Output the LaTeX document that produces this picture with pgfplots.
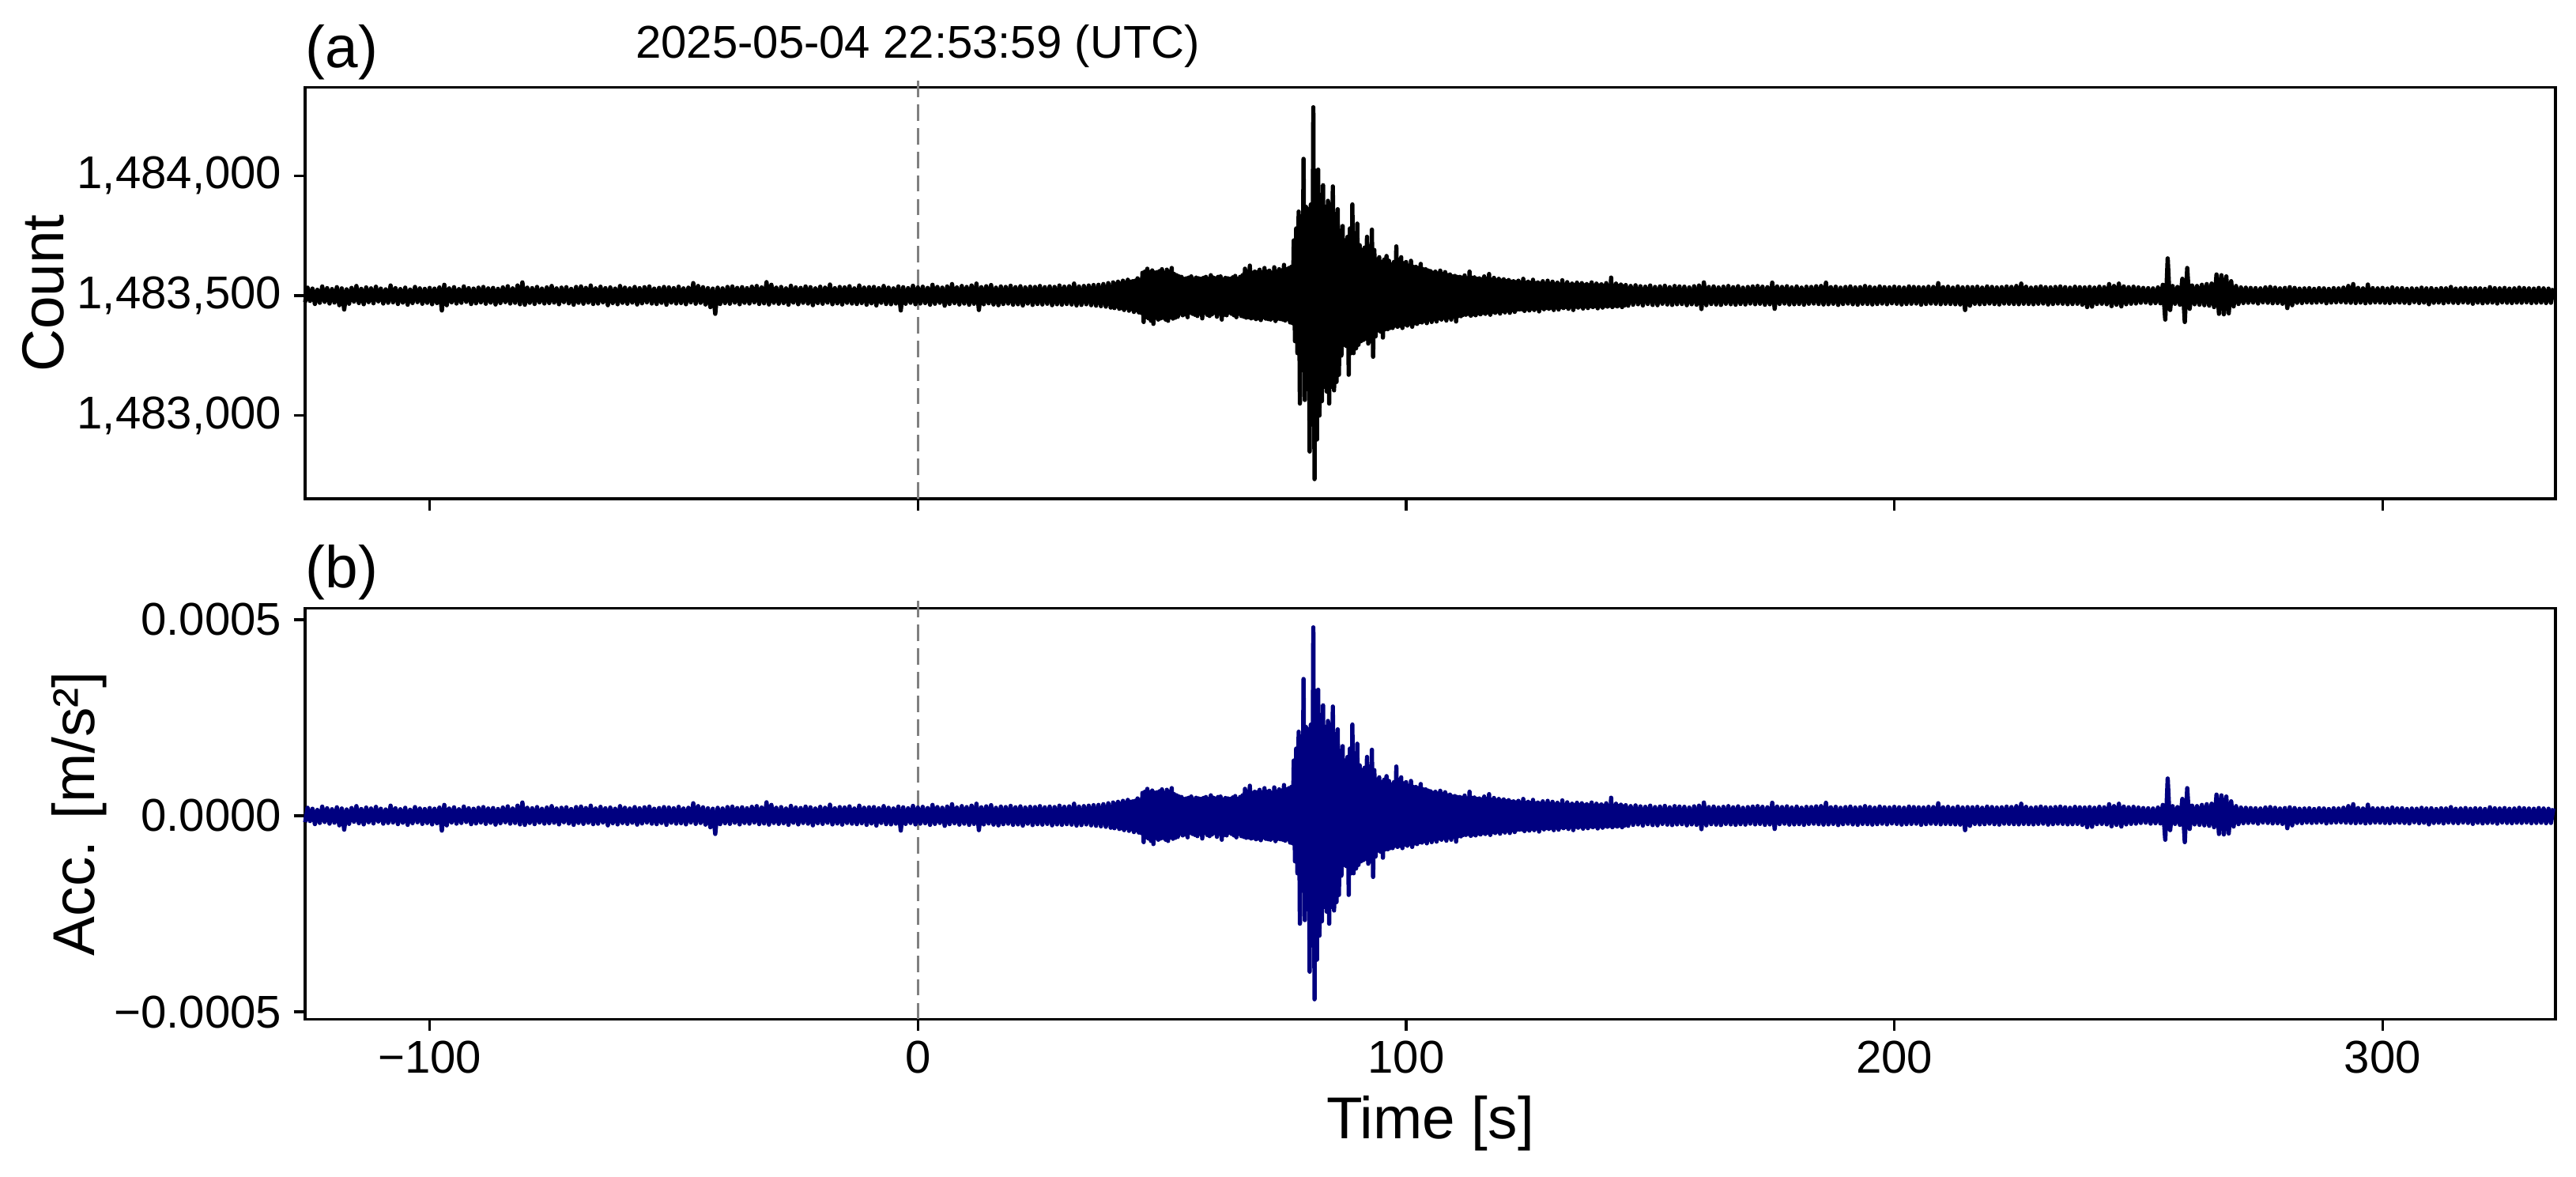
\documentclass[border=0pt]{standalone}
\usepackage{fontspec}
\setmainfont{Liberation Sans}
\usepackage{pgfplots}
\usepackage{pgfplotstable}
\pgfplotsset{compat=1.18}
\definecolor{navyblue}{RGB}{0,0,128}

% t [s], d = count - 1,483,500
\pgfplotstableread[row sep=\\]{
t d\\
-125.5 -27\\-125 33\\-124.5 -22\\-124 29\\-123.5 -35\\-123 24\\-122.5 -30\\-122 38\\-121.5 -26\\-121 31\\-120.5 -33\\-120 27\\
-119.5 -29\\-119 35\\-118.5 -40\\-118 30\\-117.5 -58\\-117 26\\-116.5 -34\\-116 32\\-115.5 -25\\-115 40\\-114.5 -31\\-114 28\\-113.5 -36\\-113 34\\-112.5 -27\\-112 30\\-111.5 -32\\-111 37\\-110.5 -24\\-110 29\\
-109.5 -33\\-109 26\\-108.5 -30\\-108 42\\-107.5 -28\\-107 31\\-106.5 -35\\-106 27\\-105.5 -29\\-105 33\\-104.5 -38\\-104 25\\-103.5 -31\\-103 36\\-102.5 -27\\-102 30\\-101.5 -34\\-101 28\\-100.5 -30\\-100 32\\
-99.5 -36\\-99 29\\-98.5 -31\\-98 34\\-97.5 -62\\-97 45\\-96.5 -40\\-96 30\\-95.5 -28\\-95 35\\-94.5 -33\\-94 27\\-93.5 -30\\-93 38\\-92.5 -26\\-92 31\\-91.5 -35\\-91 29\\-90.5 -32\\-90 33\\
-89.5 -28\\-89 36\\-88.5 -34\\-88 30\\-87.5 -29\\-87 32\\-86.5 -37\\-86 28\\-85.5 -31\\-85 34\\-84.5 -27\\-84 39\\-83.5 -33\\-83 30\\-82.5 -30\\-82 42\\-81.5 -36\\-81 55\\-80.5 -38\\-80 33\\
-79.5 -30\\-79 31\\-78.5 -35\\-78 36\\-77.5 -28\\-77 29\\-76.5 -33\\-76 34\\-75.5 -31\\-75 40\\-74.5 -29\\-74 30\\-73.5 -36\\-73 33\\-72.5 -27\\-72 35\\-71.5 -32\\-71 28\\-70.5 -38\\-70 36\\
-69.5 -30\\-69 38\\-68.5 -34\\-68 32\\-67.5 -29\\-67 42\\-66.5 -35\\-66 30\\-65.5 -33\\-65 37\\-64.5 -28\\-64 31\\-63.5 -40\\-63 34\\-62.5 -31\\-62 29\\-61.5 -36\\-61 40\\-60.5 -30\\-60 33\\
-59.5 -34\\-59 30\\-58.5 -29\\-58 36\\-57.5 -37\\-57 31\\-56.5 -32\\-56 35\\-55.5 -28\\-55 38\\-54.5 -33\\-54 29\\-53.5 -35\\-53 32\\-52.5 -30\\-52 36\\-51.5 -38\\-51 34\\-50.5 -29\\-50 31\\
-49.5 -33\\-49 37\\-48.5 -31\\-48 30\\-47.5 -36\\-47 33\\-46.5 -28\\-46 52\\-45.5 -34\\-45 40\\-44.5 -30\\-44 35\\-43.5 -37\\-43 31\\-42.5 -48\\-42 29\\-41.5 -76\\-41 33\\-40.5 -35\\-40 30\\
-39.5 -31\\-39 36\\-38.5 -34\\-38 38\\-37.5 -29\\-37 32\\-36.5 -36\\-36 35\\-35.5 -30\\-35 31\\-34.5 -33\\-34 37\\-33.5 -28\\-33 40\\-32.5 -35\\-32 34\\-31.5 -32\\-31 56\\-30.5 -37\\-30 45\\
-29.5 -30\\-29 33\\-28.5 -34\\-28 36\\-27.5 -31\\-27 30\\-26.5 -38\\-26 41\\-25.5 -29\\-25 34\\-24.5 -36\\-24 32\\-23.5 -30\\-23 38\\-22.5 -33\\-22 35\\-21.5 -40\\-21 30\\-20.5 -31\\-20 37\\
-19.5 -34\\-19 33\\-18.5 -29\\-18 46\\-17.5 -36\\-17 31\\-16.5 -32\\-16 36\\-15.5 -37\\-15 34\\-14.5 -30\\-14 39\\-13.5 -33\\-13 30\\-12.5 -35\\-12 42\\-11.5 -31\\-11 33\\-10.5 -38\\-10 35\\
-9.5 -32\\-9 36\\-8.5 -41\\-8 31\\-7.5 -30\\-7 40\\-6.5 -35\\-6 33\\-5.5 -36\\-5 30\\-4.5 -33\\-4 38\\-3.5 -62\\-3 35\\-2.5 -34\\-2 31\\-1.5 -30\\-1 41\\-0.5 -36\\0 34\\
0.5 -33\\1 37\\1.5 -31\\2 32\\2.5 -38\\3 45\\3.5 -34\\4 36\\4.5 -30\\5 33\\5.5 -42\\6 38\\6.5 -35\\7 48\\7.5 -31\\8 34\\8.5 -37\\9 40\\9.5 -33\\10 36\\
10.5 -38\\11 42\\11.5 -34\\12 50\\12.5 -60\\13 35\\13.5 -36\\14 39\\14.5 -32\\15 44\\15.5 -37\\16 33\\16.5 -40\\17 38\\17.5 -35\\18 36\\18.5 -33\\19 41\\19.5 -38\\20 35\\
20.5 -36\\21 39\\21.5 -41\\22 34\\22.5 -33\\23 37\\23.5 -39\\24 36\\24.5 -35\\25 40\\25.5 -37\\26 35\\26.5 -34\\27 38\\27.5 -40\\28 36\\28.5 -36\\29 42\\29.5 -38\\30 37\\
30.5 -35\\31 39\\31.5 -37\\32 50\\32.5 -41\\33 38\\33.5 -39\\34 40\\34.5 -36\\35 42\\35.5 -40\\36 44\\36.5 -42\\37 45\\37.5 -44\\38 48\\38.5 -46\\39 52\\39.5 -50\\
40 55\\40.25 -52\\40.5 48\\40.75 -45\\41 58\\41.25 -55\\41.5 50\\41.75 -52\\42 62\\42.25 -60\\42.5 55\\42.75 -50\\43 66\\43.25 -63\\43.5 58\\43.75 -56\\44 60\\44.25 -68\\44.5 62\\44.75 -60\\
45 72\\45.25 -70\\45.5 65\\45.75 -72\\46 95\\46.25 -110\\46.5 100\\46.75 -90\\47 112\\47.25 -95\\47.5 98\\47.75 -105\\48 105\\48.25 -118\\48.5 96\\48.75 -92\\49 98\\49.25 -100\\49.5 102\\49.75 -95\\
50 110\\50.25 -92\\50.5 95\\50.75 -100\\51 108\\51.25 -105\\51.5 100\\51.75 -90\\52 115\\52.25 -96\\52.5 90\\52.75 -92\\53 85\\53.25 -88\\53.5 80\\53.75 -75\\54 78\\54.25 -82\\54.5 70\\54.75 -78\\
55 72\\55.25 -90\\55.5 75\\55.75 -70\\56 80\\56.25 -76\\56.5 68\\56.75 -80\\57 75\\57.25 -85\\57.5 72\\57.75 -74\\58 70\\58.25 -95\\58.5 74\\58.75 -70\\59 78\\59.25 -80\\59.5 70\\59.75 -85\\
60 85\\60.25 -78\\60.5 75\\60.75 -72\\61 72\\61.25 -88\\61.5 78\\61.75 -75\\62 80\\62.25 -100\\62.5 68\\62.75 -80\\63 74\\63.25 -82\\63.5 72\\63.75 -70\\64 70\\64.25 -76\\64.5 76\\64.75 -82\\
65 82\\65.25 -90\\65.5 70\\65.75 -75\\66 78\\66.25 -85\\66.5 85\\66.75 -88\\67 112\\67.25 -92\\67.5 100\\67.75 -90\\68 125\\68.25 -95\\68.5 95\\68.75 -92\\69 100\\69.25 -98\\69.5 98\\69.75 -95\\
70 108\\70.25 -102\\70.5 96\\70.75 -90\\71 115\\71.25 -96\\71.5 100\\71.75 -98\\72 104\\72.25 -100\\72.5 95\\72.75 -94\\73 118\\73.25 -106\\73.5 100\\73.75 -96\\74 110\\74.25 -98\\74.5 105\\74.75 -100\\
75 128\\75.25 -104\\75.5 110\\75.75 -98\\76 115\\76.25 -112\\76.5 120\\76.75 -115\\77 230\\77.25 -190\\77.5 280\\77.75 -240\\78 350\\78.25 -450\\78.5 330\\78.75 -300\\79 570\\79.25 -435\\79.5 370\\79.75 -390\\
80 360\\80.25 -650\\80.5 380\\80.75 -420\\81 785\\81.25 -765\\81.5 520\\81.75 -600\\82 525\\82.25 -500\\82.5 420\\82.75 -440\\83 460\\83.25 -380\\83.5 370\\83.75 -400\\84 395\\84.25 -450\\84.5 380\\84.75 -380\\
85 455\\85.25 -395\\85.5 340\\85.75 -360\\86 360\\86.25 -330\\86.5 270\\86.75 -250\\87 290\\87.25 -205\\87.5 230\\87.75 -210\\88 245\\88.25 -330\\88.5 280\\88.75 -240\\89 380\\89.25 -240\\89.5 260\\89.75 -220\\
90 300\\90.25 -205\\90.5 210\\90.75 -190\\91 190\\91.25 -185\\91.5 200\\91.75 -180\\92 245\\92.25 -200\\92.5 200\\92.75 -190\\93 275\\93.25 -255\\93.5 190\\93.75 -170\\94 150\\94.25 -145\\94.5 160\\94.75 -150\\
95 140\\95.25 -175\\95.5 150\\95.75 -140\\96 165\\96.25 -140\\96.5 145\\96.75 -135\\97 130\\97.25 -135\\97.5 140\\97.75 -125\\98 205\\98.25 -130\\98.5 150\\98.75 -125\\99 160\\99.25 -135\\99.5 135\\99.75 -120\\
100 140\\100.25 -125\\100.5 125\\100.75 -118\\101 145\\101.25 -130\\101.5 120\\101.75 -115\\102 120\\102.25 -118\\102.5 115\\102.75 -110\\103 132\\103.25 -112\\103.5 110\\103.75 -105\\104 110\\104.25 -115\\104.5 105\\104.75 -100\\
105 102\\105.25 -110\\105.5 95\\105.75 -98\\106 100\\106.25 -108\\106.5 92\\106.75 -95\\107 104\\107.25 -100\\107.5 90\\107.75 -92\\108 98\\108.25 -104\\108.5 85\\108.75 -90\\109 88\\109.25 -100\\109.5 80\\109.75 -88\\
110 82\\110.25 -108\\110.5 78\\110.75 -85\\111 78\\111.25 -86\\111.5 75\\111.75 -80\\112 84\\112.25 -80\\112.5 72\\112.75 -76\\113 100\\113.25 -84\\113.5 74\\113.75 -78\\114 76\\114.25 -82\\114.5 70\\114.75 -74\\
115 72\\115.25 -78\\115.5 68\\115.75 -72\\116 80\\116.25 -76\\116.5 70\\116.75 -70\\117 90\\117.25 -80\\117.5 66\\117.75 -68\\118 74\\118.25 -72\\118.5 64\\118.75 -66\\119 70\\119.25 -75\\119.5 62\\119.75 -64\\
120 68\\120.25 -70\\120.5 60\\120.75 -62\\121 65\\121.25 -72\\121.5 58\\121.75 -60\\122 60\\122.25 -68\\122.5 56\\122.75 -58\\123 62\\123.25 -58\\123.5 55\\123.75 -57\\124 70\\124.25 -64\\124.5 54\\124.75 -55\\
125 58\\125.25 -62\\125.5 53\\125.75 -54\\126 66\\126.25 -60\\126.5 52\\126.75 -53\\127 55\\127.25 -66\\127.5 50\\127.75 -52\\128 60\\128.25 -57\\128.5 49\\128.75 -51\\129 62\\129.25 -55\\129.5 48\\129.75 -50\\
130 58\\130.25 -60\\130.5 47\\130.75 -49\\131 54\\131.25 -58\\131.5 46\\131.75 -48\\132 64\\132.25 -52\\132.5 45\\132.75 -47\\133 56\\133.25 -55\\133.5 45\\133.75 -46\\134 50\\134.25 -60\\134.5 44\\134.75 -46\\
135 54\\135.25 -50\\135.5 44\\135.75 -45\\136 52\\136.25 -54\\136.5 43\\136.75 -45\\137 48\\137.25 -52\\137.5 43\\137.75 -44\\138 55\\138.25 -48\\138.5 42\\138.75 -44\\139 50\\139.25 -53\\139.5 42\\139.75 -43\\
140 47\\140.25 -50\\140.5 41\\140.75 -43\\141 52\\141.25 -46\\141.5 41\\141.75 -42\\142 75\\142.25 -48\\142.5 40\\142.75 -42\\143 50\\143.25 -45\\143.5 40\\143.75 -41\\144 46\\144.25 -48\\144.5 39\\144.75 -41\\
145 44\\145.5 -42\\146 40\\146.5 -38\\147 43\\147.5 -36\\148 39\\148.5 -41\\149 37\\149.5 -35\\150 42\\
150.5 -39\\151 36\\151.5 -40\\152 38\\152.5 -34\\153 41\\153.5 -37\\154 35\\154.5 -39\\155 40\\
155.5 -36\\156 38\\156.5 -35\\157 37\\157.5 -40\\158 34\\158.5 -36\\159 39\\159.5 -38\\160 42\\
160.5 -56\\161 55\\161.5 -40\\162 36\\162.5 -35\\163 38\\163.5 -37\\164 34\\164.5 -39\\165 37\\
165.5 -34\\166 40\\166.5 -36\\167 35\\167.5 -38\\168 39\\168.5 -35\\169 33\\169.5 -37\\170 36\\
170.5 -33\\171 38\\171.5 -36\\172 40\\172.5 -34\\173 37\\173.5 -38\\174 35\\174.5 -36\\175 54\\
175.5 -55\\176 38\\176.5 -35\\177 36\\177.5 -33\\178 39\\178.5 -37\\179 34\\179.5 -36\\180 38\\
180.5 -35\\181 33\\181.5 -38\\182 37\\182.5 -34\\183 36\\183.5 -33\\184 39\\184.5 -35\\185 40\\
185.5 -37\\186 54\\186.5 -36\\187 35\\187.5 -34\\188 37\\188.5 -39\\189 33\\189.5 -35\\190 36\\
190.5 -33\\191 38\\191.5 -36\\192 34\\192.5 -38\\193 35\\193.5 -34\\194 40\\194.5 -35\\195 36\\
195.5 -37\\196 33\\196.5 -35\\197 38\\197.5 -33\\198 35\\198.5 -36\\199 34\\199.5 -32\\200 37\\
200.5 -34\\201 35\\201.5 -37\\202 33\\202.5 -35\\203 38\\203.5 -34\\204 36\\204.5 -33\\205 35\\
205.5 -38\\206 34\\206.5 -35\\207 37\\207.5 -33\\208 36\\208.5 -34\\209 52\\209.5 -36\\210 35\\
210.5 -34\\211 37\\211.5 -35\\212 33\\212.5 -36\\213 38\\213.5 -37\\214 34\\214.5 -60\\215 36\\
215.5 -42\\216 35\\216.5 -34\\217 37\\217.5 -36\\218 33\\218.5 -35\\219 38\\219.5 -33\\220 36\\
220.5 -35\\221 34\\221.5 -37\\222 35\\222.5 -33\\223 38\\223.5 -34\\224 36\\224.5 -35\\225 40\\
225.5 -36\\226 50\\226.5 -34\\227 37\\227.5 -35\\228 33\\228.5 -36\\229 35\\229.5 -34\\230 38\\
230.5 -33\\231 35\\231.5 -37\\232 34\\232.5 -35\\233 36\\233.5 -33\\234 38\\234.5 -34\\235 35\\
235.5 -36\\236 33\\236.5 -35\\237 37\\237.5 -34\\238 35\\238.5 -38\\239 34\\239.5 -48\\240 36\\
240.5 -46\\241 33\\241.5 -35\\242 37\\242.5 -34\\243 35\\243.5 -36\\244 48\\244.5 -44\\245 40\\
245.5 -38\\246 50\\246.5 -45\\247 38\\247.5 -36\\248 35\\248.5 -34\\249 37\\249.5 -33\\250 34\\
250.5 -30\\251 32\\251.5 -29\\252 31\\252.5 -33\\253 30\\253.5 -31\\254 34\\254.5 -32\\255 45\\
255.5 -100\\256 155\\256.5 -60\\257 40\\257.5 -34\\258 36\\258.5 -38\\259 70\\259.5 -110\\260 115\\
260.5 -55\\261 42\\261.5 -36\\262 40\\262.5 -38\\263 45\\263.5 -40\\264 48\\264.5 -42\\265 50\\
265.5 -48\\266 88\\266.5 -76\\267 85\\267.5 -78\\268 80\\268.5 -74\\269 60\\269.5 -45\\270 40\\
270.5 -35\\271 34\\271.5 -31\\272 33\\272.5 -30\\273 32\\273.5 -29\\274 31\\274.5 -33\\275 30\\
275.5 -28\\276 34\\276.5 -30\\277 36\\277.5 -32\\278 33\\278.5 -31\\279 30\\279.5 -34\\280 32\\
280.5 -52\\281 35\\281.5 -40\\282 32\\282.5 -30\\283 29\\283.5 -31\\284 30\\284.5 -28\\285 31\\
285.5 -30\\286 28\\286.5 -29\\287 31\\287.5 -27\\288 30\\288.5 -32\\289 28\\289.5 -29\\290 31\\
290.5 -28\\291 30\\291.5 -27\\292 33\\292.5 -29\\293 40\\293.5 -30\\294 48\\294.5 -31\\295 32\\
295.5 -29\\296 30\\296.5 -32\\297 46\\297.5 -30\\298 31\\298.5 -28\\299 30\\299.5 -29\\300 32\\
300.5 -30\\301 29\\301.5 -31\\302 34\\302.5 -28\\303 30\\303.5 -29\\304 31\\304.5 -30\\305 28\\
305.5 -32\\306 30\\306.5 -27\\307 29\\307.5 -31\\308 33\\308.5 -29\\309 30\\309.5 -36\\310 31\\
310.5 -30\\311 28\\311.5 -29\\312 31\\312.5 -32\\313 30\\313.5 -28\\314 36\\314.5 -30\\315 29\\
315.5 -31\\316 30\\316.5 -28\\317 32\\317.5 -30\\318 29\\318.5 -34\\319 31\\319.5 -29\\320 30\\
320.5 -32\\321 28\\321.5 -30\\322 35\\322.5 -29\\323 31\\323.5 -33\\324 30\\324.5 -28\\325 32\\
325.5 -30\\326 29\\326.5 -31\\327 30\\327.5 -29\\328 33\\328.5 -30\\329 31\\329.5 -28\\330 30\\
330.5 -31\\331 29\\331.5 -30\\332 32\\332.5 -29\\333 30\\333.5 -31\\334 29\\334.5 -30\\335 31\\
}\trace

\tikzset{vline/.style={gray, line width=0.7pt, dash pattern=on 5pt off 2.2pt}}
\pgfplotsset{
  seis/.style={
    scale only axis, width=685.8pt, height=125.3pt,
    xmin=-125.5, xmax=335.4,
    clip=false,
    scaled y ticks=false, scaled x ticks=false,
    axis line style={line width=0.8pt, black},
    tick pos=left, tick align=outside,
    major tick length=3.5pt,
    tick style={line width=0.8pt, black},
    xtick={-100,0,100,200,300},
    ticklabel style={font=\fontsize{14}{16}\selectfont, inner sep=0pt},
    xticklabel style={yshift=-3pt},
    yticklabel style={xshift=-3.5pt},
    label style={font=\fontsize{18}{21}\selectfont, inner sep=0pt},
  },
}

\begin{document}
\begin{tikzpicture}
\useasboundingbox (0,0) rectangle (785.1pt,-358.7pt);

\begin{axis}[seis, at={(93pt,-26.7pt)}, anchor=north west,
  ymin=-847, ymax=867, ytick={-500,0,500},
  yticklabels={{1,483,000},{1,483,500},{1,484,000}},
  xticklabels={},
  ylabel={Count},
  ylabel style={at={(axis description cs:-0.1075,0.5)}, anchor=base},
]
\draw[vline] (axis cs:0,-847) -- ([yshift=3.6pt]axis cs:0,867);
\addplot[black, line width=1.3pt, line join=round, mark=none] table[x=t, y=d]{\trace};
\end{axis}

\begin{axis}[seis, at={(93pt,-185.3pt)}, anchor=north west,
  ymin=-0.0005187, ymax=0.0005296, ytick={-0.0005,0,0.0005},
  yticklabels={−0.0005,0.0000,0.0005},
  xticklabels={−100,0,100,200,300},
  xlabel={Time [s]}, ylabel={Acc. [m/s²]},
  ylabel style={at={(axis description cs:-0.0935,0.5)}, anchor=base},
  xlabel style={at={(axis description cs:0.5,-0.2905)}, anchor=base},
]
\draw[vline] (axis cs:0,-0.0005187) -- ([yshift=3.6pt]axis cs:0,0.0005296);
\addplot[navyblue, line width=1.3pt, line join=round, mark=none] table[x=t, y expr=\thisrow{d}*6.117e-7]{\trace};
\end{axis}

\node[anchor=base west, inner sep=0pt, font=\fontsize{18}{21}\selectfont] at (93pt,-20.5pt) {(a)};
\node[anchor=base west, inner sep=0pt, font=\fontsize{18}{21}\selectfont] at (93pt,-179pt) {(b)};
\node[anchor=base, inner sep=0pt, font=\fontsize{14}{17}\selectfont] at (279.7pt,-17.75pt) {2025-05-04 22:53:59 (UTC)};
\end{tikzpicture}
\end{document}
